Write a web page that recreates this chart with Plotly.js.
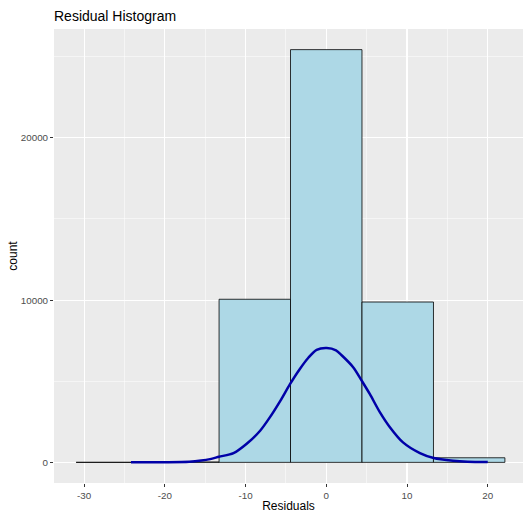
<!DOCTYPE html>
<html>
<head>
<meta charset="utf-8">
<script src="https://cdn.plot.ly/plotly-3.0.1.min.js"></script>
<style>html,body{margin:0;padding:0;background:#fff;}#chart{width:523px;height:513px;}</style>
</head>
<body>
<div id="chart"></div>
<script>
// Histogram bins (centers) and counts
var binCenters = [-26.57, -17.72, -8.86, -0.01, 8.85, 17.70];
var binWidth = 8.855;
var binCounts = [3, 25, 10050, 25430, 9880, 283];

// Scaled density curve
var densX = [-24.2, -20, -17, -15.5, -14.4, -13.3, -11.5, -9.9, -8.2, -7.0, -5.7, -4.5, -3.3, -2.2, -1.2, 0.05, 1.2, 1.9, 3.35, 4.4, 5.4, 6.65, 7.9, 9.5, 11.6, 13.3, 15.7, 17.5, 20];
var densY = [0, 10, 40, 110, 200, 345, 570, 1130, 1950, 2770, 3790, 4820, 5740, 6460, 6930, 7040, 6900, 6600, 5850, 5020, 4200, 3080, 2150, 1230, 570, 265, 100, 40, 20];

var xTicks = [-30, -20, -10, 0, 10, 20];
var yTicks = [0, 10000, 20000];

var traces = [
  {
    type: 'bar',
    x: binCenters,
    y: binCounts,
    width: binCenters.map(function(){ return binWidth; }),
    marker: {color: '#ADD8E6', line: {color: '#000000', width: 0.8}},
    hoverinfo: 'x+y'
  },
  {
    type: 'scatter',
    mode: 'lines',
    x: densX,
    y: densY,
    line: {color: '#0000A8', width: 2.5, shape: 'spline', smoothing: 0.8}
  }
];

var font = "'Liberation Sans', Arial, sans-serif";

var layout = {
  width: 523,
  height: 513,
  margin: {l: 54, r: 0, t: 29, b: 30},
  paper_bgcolor: '#FFFFFF',
  plot_bgcolor: '#EBEBEB',
  showlegend: false,
  bargap: 0,
  font: {family: font},
  title: {
    text: 'Residual Histogram',
    font: {family: font, size: 14, color: '#000000'},
    x: 0, xref: 'paper', xanchor: 'left',
    y: 1 - 16/513, yref: 'container', yanchor: 'middle'
  },
  xaxis: {
    range: [-33.74, 24.37],
    tickvals: xTicks,
    ticktext: xTicks.map(String),
    ticks: 'outside', ticklen: 3, tickwidth: 1, tickcolor: '#333333',
    tickfont: {family: font, size: 9.8, color: '#4D4D4D'},
    showgrid: true, gridcolor: '#FFFFFF', gridwidth: 1.1,
    minor: {tickvals: [-25, -15, -5, 5, 15], showgrid: true, gridcolor: '#FFFFFF', gridwidth: 0.5, ticks: ''},
    zeroline: false, showline: false,
    title: {text: 'Residuals', font: {family: font, size: 12, color: '#000000'}, standoff: 4}
  },
  yaxis: {
    range: [-1271, 26701],
    tickvals: yTicks,
    ticktext: yTicks.map(String),
    ticks: 'outside', ticklen: 3, tickwidth: 1, tickcolor: '#333333',
    tickfont: {family: font, size: 9.8, color: '#4D4D4D'},
    showgrid: true, gridcolor: '#FFFFFF', gridwidth: 1.1,
    minor: {tickvals: [5000, 15000, 25000], showgrid: true, gridcolor: '#FFFFFF', gridwidth: 0.5, ticks: ''},
    zeroline: false, showline: false,
    title: {text: 'count', font: {family: font, size: 12, color: '#000000'}, standoff: 0}
  }
};

Plotly.newPlot('chart', traces, layout, {displayModeBar: false, staticPlot: true});
</script>
</body>
</html>
